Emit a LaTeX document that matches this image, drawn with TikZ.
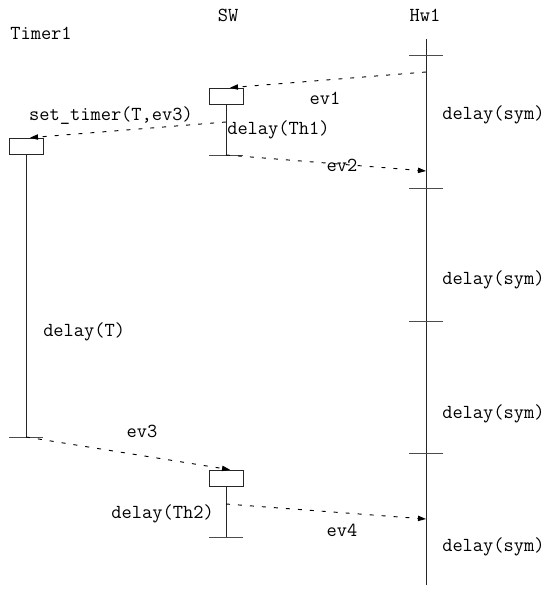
\documentclass[tikz,border=0pt]{standalone}
\usetikzlibrary{arrows.meta,positioning,calc}

\begin{document}
\begin{tikzpicture}[x=0.75pt,y=-0.75pt]

		\tikzset{line/.style={draw=black!85,line width=0.7pt}}
		\tikzset{tick/.style={draw=black!70,line width=0.7pt}}
		\tikzset{msg/.style={draw=black,line width=0.7pt,dash pattern=on 3pt off 6pt,-{Triangle[length=6pt,width=4pt]}}}
		\tikzset{box/.style={draw=black!85,line width=0.7pt,minimum width=25.5pt,minimum height=12.5pt,inner sep=0pt}}
		\tikzset{txt/.style={inner sep=0pt,font=\ttfamily\fontsize{14.9}{17}\selectfont}}

		\useasboundingbox (0,0) rectangle (548,603);

		% heads
		\node[txt] (timer) at (41,33) {Timer1};
		\node[txt] (sw) at (228,15) {SW};
		\node[txt] (hw) at (425,15) {Hw1};

		% activation boxes
		\node[box] (tm) at (26,146.5) {};
		\node[box] (sw1) at (226,96.5) {};
		\node[box] (sw2) at (226,478.5) {};

		% lifeline ends
		\coordinate (tmend) at (26,437);
		\coordinate (sw1end) at (226,155);
		\coordinate (sw2end) at (226,537);
		\coordinate (hwtop) at (426,39);
		\coordinate (hwbot) at (426,585);

		\path[line] (tm.south) -- (tmend);
		\path[line] (sw1.south) -- (sw1end);
		\path[line] (sw2.south) -- (sw2end);
		\path[line] (hwtop) -- (hwbot);

		\foreach \p in {tmend,sw1end,sw2end}
			\path[tick] ($(\p)+(-17,0)$) -- ($(\p)+(17,0)$);
		\foreach \y in {55,188,321,453}
			\path[tick] (409,\y) -- (443,\y);

		% message points
		\coordinate (ev1s) at (426,72);
		\coordinate (sts) at (226,122);
		\coordinate (ev2e) at (426,171);
		\coordinate (ev4s) at (226,504);
		\coordinate (ev4e) at (426,519);

		\path[msg] (ev1s) -- ($(sw1.north)+(4,0)$);
		\path[msg] (sts) -- ($(tm.north)+(4,0)$);
		\path[msg] (sw1end) -- (ev2e);
		\path[msg] (tmend) -- ($(sw2.north)+(4,0)$);
		\path[msg] (ev4s) -- (ev4e);

		% labels
		\node[txt] (l1) at (325,98) {ev1};
		\node[txt] (lst) at (111,116) {set\_timer(T,ev3)};
		\node[txt,anchor=west] (lth1) at (227,130) {delay(Th1)};
		\node[txt] (l2) at (342,165) {ev2};
		\node[txt,anchor=west] (lt) at (43,332) {delay(T)};
		\node[txt] (l3) at (142,431) {ev3};
		\node[txt,anchor=east] (lth2) at (214,514) {delay(Th2)};
		\node[txt] (l4) at (342,530) {ev4};

		\foreach \y/\n in {115/a,280/b,414/c,547/d}
			\node[txt,anchor=west] (sym\n) at (442,\y) {delay(sym)};

\end{tikzpicture}
\end{document}
